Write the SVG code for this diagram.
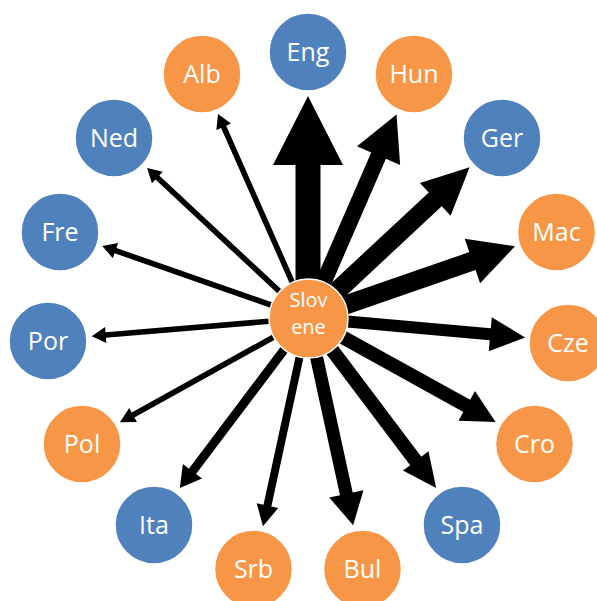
<svg xmlns="http://www.w3.org/2000/svg" width="597" height="601" viewBox="0 0 597 601">
<style>
.b{fill:#4F81BD;stroke:#fff;stroke-width:1.5}
.o{fill:#F79646;stroke:#fff;stroke-width:1.5}
.t{font-family:"Open Sans","Liberation Sans",sans-serif;font-size:25px;fill:#fff;text-anchor:middle}
.s{font-family:"Open Sans","Liberation Sans",sans-serif;font-size:20px;fill:#fff;text-anchor:middle}
.a{fill:#000}
</style>
<rect width="597" height="601" fill="#fff"/>
<g id="connectors">
<path class="a" transform="translate(308 318) rotate(-90)" d="M0,-12.5 L153,-12.5 L153,-35 L222,0 L153,35 L153,12.5 L0,12.5 Z"/>
<path class="a" transform="translate(308 318) rotate(-66.5)" d="M0,-8 L177,-8 L177,-23.5 L222,0 L177,23.5 L177,8 L0,8 Z"/>
<path class="a" transform="translate(308 318) rotate(-43)" d="M0,-9.5 L174,-9.5 L174,-22.5 L221,0 L174,22.5 L174,9.5 L0,9.5 Z"/>
<path class="a" transform="translate(308 318) rotate(-19.1)" d="M0,-9.5 L174,-9.5 L174,-23.5 L219,0 L174,23.5 L174,9.5 L0,9.5 Z"/>
<path class="a" transform="translate(308 318) rotate(5.1)" d="M0,-6 L183,-6 L183,-17 L218,0 L183,17 L183,6 L0,6 Z"/>
<path class="a" transform="translate(308 318) rotate(29)" d="M0,-7 L181.5,-7 L181.5,-17 L214.5,0 L181.5,17 L181.5,7 L0,7 Z"/>
<path class="a" transform="translate(308 318) rotate(53)" d="M0,-7 L179,-7 L179,-16 L213,0 L179,16 L179,7 L0,7 Z"/>
<path class="a" transform="translate(308 318) rotate(77.7)" d="M0,-6.5 L180,-6.5 L180,-17.5 L212,0 L180,17.5 L180,6.5 L0,6.5 Z"/>
<path class="a" transform="translate(308 318) rotate(102.2)" d="M0,-4 L192,-4 L192,-11 L213,0 L192,11 L192,4 L0,4 Z"/>
<path class="a" transform="translate(308 318) rotate(127)" d="M0,-4.5 L192,-4.5 L192,-12 L213,0 L192,12 L192,4.5 L0,4.5 Z"/>
<path class="a" transform="translate(308 318) rotate(151)" d="M0,-2.8 L200,-2.8 L200,-8 L215,0 L200,8 L200,2.8 L0,2.8 Z"/>
<path class="a" transform="translate(308 318) rotate(175.2)" d="M0,-2.8 L203,-2.8 L203,-8 L217,0 L203,8 L203,2.8 L0,2.8 Z"/>
<path class="a" transform="translate(308 318) rotate(199.3)" d="M0,-2.8 L204,-2.8 L204,-8 L218,0 L204,8 L204,2.8 L0,2.8 Z"/>
<path class="a" transform="translate(308 318) rotate(223)" d="M0,-2.8 L206,-2.8 L206,-8 L220,0 L206,8 L206,2.8 L0,2.8 Z"/>
<path class="a" transform="translate(308 318) rotate(246.2)" d="M0,-2.8 L209,-2.8 L209,-8 L223,0 L209,8 L209,2.8 L0,2.8 Z"/>
</g>
<g id="slovene"><circle class="o" cx="308.5" cy="318.5" r="39.5"/><text class="s" x="308.5" y="307">Slov</text><text class="s" x="308.5" y="333.5">ene</text></g>
<g id="eng"><circle class="b" cx="308" cy="52" r="39"/><text class="t" x="308" y="61">Eng</text></g>
<g id="hun"><circle class="o" cx="414" cy="74" r="39"/><text class="t" x="414" y="83">Hun</text></g>
<g id="ger"><circle class="b" cx="502" cy="138" r="39"/><text class="t" x="502" y="147">Ger</text></g>
<g id="mac"><circle class="o" cx="556.5" cy="232" r="39"/><text class="t" x="556.5" y="241">Mac</text></g>
<g id="cze"><circle class="o" cx="568" cy="343" r="39"/><text class="t" x="568" y="352">Cze</text></g>
<g id="cro"><circle class="o" cx="534.5" cy="444" r="39"/><text class="t" x="534.5" y="453">Cro</text></g>
<g id="spa"><circle class="b" cx="462" cy="525" r="39"/><text class="t" x="462" y="534">Spa</text></g>
<g id="bul"><circle class="o" cx="362.5" cy="569" r="39"/><text class="t" x="362.5" y="578">Bul</text></g>
<g id="srb"><circle class="o" cx="253.5" cy="569" r="39"/><text class="t" x="253.5" y="578">Srb</text></g>
<g id="ita"><circle class="b" cx="154" cy="525" r="39"/><text class="t" x="154" y="534">Ita</text></g>
<g id="pol"><circle class="o" cx="82" cy="444" r="39"/><text class="t" x="82" y="453">Pol</text></g>
<g id="por"><circle class="b" cx="48" cy="341" r="39"/><text class="t" x="48" y="350">Por</text></g>
<g id="fre"><circle class="b" cx="60" cy="232" r="39"/><text class="t" x="60" y="241">Fre</text></g>
<g id="ned"><circle class="b" cx="114" cy="138" r="39"/><text class="t" x="114" y="147">Ned</text></g>
<g id="alb"><circle class="o" cx="202" cy="74" r="39"/><text class="t" x="202" y="83">Alb</text></g>
</svg>
